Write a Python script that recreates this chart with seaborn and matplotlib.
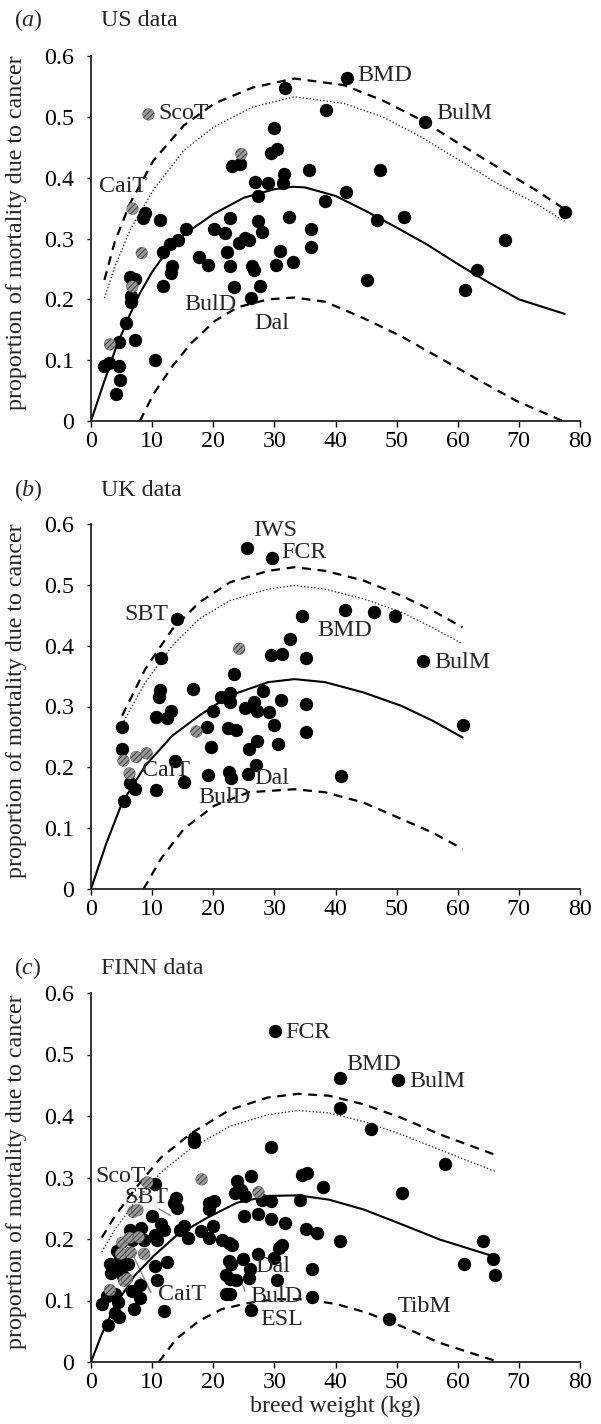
import matplotlib
matplotlib.use('Agg')
import matplotlib.pyplot as plt
import seaborn as sns

sns.set_style('ticks')
plt.rcParams['font.family'] = ['Liberation Serif', 'DejaVu Serif']
plt.rcParams['mathtext.fontset'] = 'custom'
plt.rcParams['mathtext.rm'] = 'Liberation Serif'
plt.rcParams['mathtext.it'] = 'Liberation Serif:italic'
plt.rcParams['hatch.color'] = '#3a3a3a'
plt.rcParams['hatch.linewidth'] = 0.8

# ---------------- US data ----------------
us_black = [(41.9, 0.564), (31.75, 0.548), (38.4, 0.511), (54.7, 0.491), (29.9, 0.481),
            (29.5, 0.441), (30.5, 0.447), (23, 0.42), (24.3, 0.422), (31.6, 0.406),
            (35.7, 0.413), (47.25, 0.413), (26.9, 0.393), (28.9, 0.392), (31.4, 0.391),
            (27.4, 0.37), (41.75, 0.376), (38.3, 0.361), (8.8, 0.342), (8.5, 0.333),
            (11.25, 0.331), (32.4, 0.336), (46.75, 0.331), (51.25, 0.336), (22.7, 0.334),
            (27.4, 0.328), (15.6, 0.316), (20.2, 0.316), (21.9, 0.309), (27.9, 0.31),
            (36, 0.316), (67.8, 0.298), (14.25, 0.298), (13, 0.291), (11.75, 0.277),
            (24.25, 0.292), (25.2, 0.301), (25.8, 0.298), (22.25, 0.277), (31, 0.279),
            (36, 0.286), (17.7, 0.269), (19.1, 0.257), (22.7, 0.254), (26.4, 0.254),
            (26.6, 0.249), (30.2, 0.256), (33, 0.261), (13.3, 0.254), (13.1, 0.244),
            (7.25, 0.234), (6.4, 0.236), (6.6, 0.206), (6.5, 0.196), (11.75, 0.222),
            (23.4, 0.22), (27.7, 0.222), (45.2, 0.232), (63.2, 0.249), (61.25, 0.215),
            (26.1, 0.202), (5.8, 0.161), (7.2, 0.133), (4.6, 0.13), (10.5, 0.1),
            (2.1, 0.09), (2.9, 0.096), (4.6, 0.09), (4.75, 0.067), (4.1, 0.044),
            (77.5, 0.343)]
us_gray = [(9.4, 0.504), (24.6, 0.439), (6.8, 0.349), (8.3, 0.276), (6.75, 0.221), (3.1, 0.126)]

us_fit_w = [0, 2, 4, 6, 8, 10, 12.5, 15, 20, 25, 30, 33, 35, 40, 45, 50, 55, 60, 65, 70, 77.5]
us_fit = [0, 0.06, 0.118, 0.167, 0.21, 0.245, 0.28, 0.305, 0.34, 0.367, 0.381, 0.385, 0.384,
          0.37, 0.345, 0.318, 0.29, 0.258, 0.228, 0.2, 0.176]
us_band_w = [2.2, 3.9, 6.4, 10.2, 15.2, 20.2, 26.4, 33.3, 41.4, 47.7, 54, 60.2, 66.4, 72.7, 77.5]
us_upper = [0.232, 0.295, 0.358, 0.428, 0.486, 0.522, 0.548, 0.563, 0.552, 0.527, 0.495,
            0.456, 0.418, 0.38, 0.348]
us_dotted = [0.202, 0.254, 0.314, 0.38, 0.445, 0.484, 0.516, 0.533, 0.522, 0.5, 0.467,
             0.429, 0.391, 0.358, 0.328]
us_lower_w = [8, 10.2, 13.3, 16.4, 20.2, 24, 29, 33.3, 38.3, 44.6, 50.8, 57, 63.3, 69.6, 77.2]
us_lower = [0, 0.044, 0.09, 0.128, 0.164, 0.187, 0.2, 0.203, 0.196, 0.169, 0.139, 0.104,
            0.068, 0.033, 0]
us_labels = [('BMD', 43.6, 0.568), ('ScoT', 11.0, 0.505), ('BulM', 56.5, 0.505),
             ('CaiT', 1.3, 0.385), ('BulD', 15.2, 0.191), ('Dal', 26.75, 0.161)]

# ---------------- UK data ----------------
uk_black = [(25.6, 0.56), (29.6, 0.544), (14.1, 0.444), (34.6, 0.448), (41.6, 0.459),
            (46.3, 0.455), (49.75, 0.448), (32.6, 0.411), (29.4, 0.385), (31.3, 0.387),
            (35.2, 0.379), (11.4, 0.379), (54.25, 0.374), (23.4, 0.353), (16.75, 0.328),
            (28.2, 0.326), (11.3, 0.327), (11.1, 0.315), (21.3, 0.316), (22.8, 0.323),
            (22.8, 0.308), (31.1, 0.31), (35.2, 0.304), (13.1, 0.292), (12.5, 0.281),
            (10.7, 0.283), (20, 0.293), (25.2, 0.298), (26.6, 0.307), (27.1, 0.293),
            (29.1, 0.291), (5.1, 0.266), (18.9, 0.266), (22.4, 0.264), (23.75, 0.262),
            (29.9, 0.27), (60.8, 0.27), (35.2, 0.258), (27.2, 0.244), (25.8, 0.23),
            (19.6, 0.233), (30.6, 0.238), (5.1, 0.23), (13.75, 0.211), (27.0, 0.204),
            (6.4, 0.175), (7.2, 0.165), (5.4, 0.144), (10.6, 0.162), (15.2, 0.176),
            (19.1, 0.188), (22.5, 0.192), (22.9, 0.182), (25.7, 0.189), (40.9, 0.186)]
uk_gray = [(24.25, 0.395), (17.25, 0.259), (5.3, 0.211), (7.4, 0.217), (9.1, 0.223), (6.3, 0.19)]

uk_fit_w = [0, 2.5, 5.1, 8.9, 13.3, 17.7, 22.7, 29, 33.3, 38.3, 44.6, 50.8, 55.8, 60.8]
uk_fit = [0, 0.075, 0.142, 0.203, 0.252, 0.285, 0.318, 0.34, 0.345, 0.34, 0.323, 0.301,
          0.277, 0.249]
uk_band_w = [5.1, 8.9, 13.3, 17.7, 22.7, 29, 33.3, 38.3, 44.6, 50.8, 55.8, 60.8]
uk_upper = [0.285, 0.362, 0.427, 0.471, 0.504, 0.523, 0.529, 0.523, 0.507, 0.482, 0.458, 0.43]
uk_dotted = [0.271, 0.34, 0.4, 0.444, 0.474, 0.493, 0.499, 0.493, 0.477, 0.455, 0.43, 0.403]
uk_lower_w = [8.6, 11.4, 15.2, 20.2, 25.8, 33.3, 38.3, 44.6, 50.8, 55.8, 60.8]
uk_lower = [0, 0.049, 0.099, 0.137, 0.159, 0.164, 0.159, 0.142, 0.115, 0.093, 0.066]
uk_labels = [('IWS', 26.6, 0.589), ('FCR', 31.1, 0.553), ('SBT', 5.5, 0.452),
             ('BMD', 37.0, 0.425), ('BulM', 56.2, 0.372), ('CaiT', 8.3, 0.195),
             ('Dal', 26.75, 0.181), ('BulD', 17.6, 0.151)]

# ---------------- FINN data ----------------
fi_black = [(30.1, 0.538), (40.7, 0.462), (40.7, 0.413), (50.2, 0.458), (45.8, 0.379),
            (16.9, 0.364), (16.9, 0.358), (29.4, 0.349), (57.9, 0.322), (34.6, 0.304),
            (35.4, 0.308), (38, 0.285), (50.9, 0.275), (26.1, 0.302), (23.9, 0.295),
            (10.5, 0.29), (13.6, 0.259), (13.9, 0.267), (14.1, 0.25), (9.9, 0.238),
            (19.25, 0.259), (20.2, 0.262), (19.25, 0.248), (23.6, 0.275), (24.6, 0.28),
            (25.2, 0.27), (28, 0.264), (29.4, 0.262), (34.2, 0.264), (25, 0.237),
            (27.4, 0.24), (29.4, 0.233), (31.75, 0.226), (35.2, 0.217), (37, 0.21),
            (40.7, 0.197), (64.1, 0.197), (65.8, 0.167), (61, 0.159), (66.1, 0.141),
            (14.6, 0.215), (15.2, 0.221), (15.8, 0.202), (11.4, 0.225), (12, 0.215),
            (10.5, 0.207), (10.8, 0.199), (12.5, 0.162), (10.5, 0.156), (10.75, 0.134),
            (18, 0.213), (19.9, 0.221), (19.25, 0.202), (21.4, 0.199), (22.6, 0.194),
            (23, 0.191), (30.8, 0.186), (31.3, 0.191), (27.4, 0.175), (22.6, 0.164),
            (22.9, 0.159), (24.9, 0.168), (29.9, 0.169), (26, 0.151), (36.1, 0.152),
            (22.1, 0.142), (22.7, 0.135), (23.8, 0.134), (25.9, 0.137), (30.5, 0.134),
            (22.1, 0.11), (22.8, 0.11), (36.1, 0.106), (26.1, 0.084), (48.75, 0.07),
            (7.1, 0.086), (11.9, 0.083), (8, 0.104), (8, 0.126), (6.75, 0.115),
            (1.75, 0.094), (2.6, 0.108), (3.9, 0.11), (4.4, 0.097), (3.9, 0.08),
            (4.6, 0.073), (2.8, 0.06), (3.1, 0.159), (3.3, 0.145), (3.75, 0.15),
            (4.9, 0.153), (4.25, 0.18), (4.7, 0.167), (6.1, 0.159), (5.3, 0.14),
            (6.4, 0.215), (6.75, 0.199), (8.6, 0.199), (8.1, 0.218)]
fi_gray = [(9.2, 0.292), (18.1, 0.297), (27.4, 0.276), (6.9, 0.244), (7.6, 0.247),
           (5.1, 0.194), (6.3, 0.202), (7.8, 0.203), (4.9, 0.176), (6.5, 0.178),
           (8.7, 0.176), (5.4, 0.132), (5.9, 0.135), (3.1, 0.117)]

fi_fit_w = [0, 1.75, 3.9, 7.1, 10.2, 13.9, 18.9, 23.9, 28.9, 33.9, 38.9, 44.6, 50.8, 57.1, 65.8]
fi_fit = [0, 0.045, 0.091, 0.14, 0.172, 0.205, 0.234, 0.259, 0.27, 0.271, 0.264, 0.248,
          0.224, 0.199, 0.172]
fi_band_w = [1.75, 3.9, 7.1, 11.4, 16.4, 22.7, 28.9, 33.9, 38.9, 44.6, 50.8, 57.1, 66.1]
fi_upper = [0.202, 0.237, 0.28, 0.332, 0.372, 0.41, 0.43, 0.436, 0.433, 0.419, 0.397, 0.37, 0.337]
fi_dotted = [0.179, 0.215, 0.259, 0.308, 0.348, 0.383, 0.402, 0.409, 0.405, 0.391, 0.37, 0.345, 0.31]
fi_lower_w = [11.1, 13.9, 17.7, 21.4, 25.8, 30.2, 35.2, 40.2, 45.2, 50.8, 57.1, 66.1]
fi_lower = [0, 0.037, 0.067, 0.086, 0.096, 0.102, 0.102, 0.094, 0.08, 0.058, 0.031, 0.002]
fi_labels = [('FCR', 31.75, 0.535), ('BMD', 41.75, 0.483), ('BulM', 52.0, 0.456),
             ('ScoT', 0.7, 0.302), ('SBT', 5.5, 0.267), ('CaiT', 10.9, 0.11),
             ('Dal', 26.9, 0.156), ('BulD', 26.1, 0.107), ('ESL', 27.7, 0.069),
             ('TibM', 50.1, 0.091)]
fi_leaders = [((11.1, 13.0), (0.249, 0.238)), ((7.05, 9.8), (0.17, 0.113)),
              ((8.1, 9.8), (0.137, 0.115)), ((24.25, 25.2), (0.14, 0.115))]

panels = [
    ('a', 'US data', us_black, us_gray, (us_fit_w, us_fit), (us_band_w, us_upper),
     (us_band_w, us_dotted), (us_lower_w, us_lower), us_labels, []),
    ('b', 'UK data', uk_black, uk_gray, (uk_fit_w, uk_fit), (uk_band_w, uk_upper),
     (uk_band_w, uk_dotted), (uk_lower_w, uk_lower), uk_labels, []),
    ('c', 'FINN data', fi_black, fi_gray, (fi_fit_w, fi_fit), (fi_band_w, fi_upper),
     (fi_band_w, fi_dotted), (fi_lower_w, fi_lower), fi_labels, fi_leaders),
]

W, H = 601, 1424
# axes boxes in pixels: top, bottom
boxes = [(56, 421), (524, 889), (993, 1362)]
title_y = [20, 490, 968]
left_px, right_px = 91, 580
FS = 17.3


def main():
    fig = plt.figure(figsize=(W / 100, H / 100), dpi=100)
    for i, (tag, name, black, gray, fit, upper, dotted, lower, labels, leaders) in enumerate(panels):
        top, bot = boxes[i]
        ax = fig.add_axes([left_px / W, 1 - bot / H, (right_px - left_px) / W, (bot - top) / H])

        for lw_pair in leaders:
            ax.plot(lw_pair[0], lw_pair[1], color='#8a8a8a', lw=1.0, zorder=1)

        sns.lineplot(x=fit[0], y=fit[1], ax=ax, color='black', lw=1.5, zorder=2)
        sns.lineplot(x=upper[0], y=upper[1], ax=ax, color='black', lw=1.6,
                     dashes=(4, 3), zorder=2)
        sns.lineplot(x=lower[0], y=lower[1], ax=ax, color='black', lw=1.6,
                     dashes=(4, 3), zorder=2)
        sns.lineplot(x=dotted[0], y=dotted[1], ax=ax, color='#333333', lw=1.0,
                     dashes=(1, 1.5), zorder=2)

        sns.scatterplot(x=[p[0] for p in black], y=[p[1] for p in black], ax=ax,
                        color='black', s=92, edgecolor='black', linewidth=0,
                        zorder=3, clip_on=False)
        sns.scatterplot(x=[p[0] for p in gray], y=[p[1] for p in gray], ax=ax,
                        color='#9a9a9a', s=70, edgecolor='#4a4a4a', linewidth=0.3,
                        hatch='//////', zorder=4, clip_on=False)

        for txt, x, y in labels:
            ax.text(x, y, txt, fontsize=FS, ha='left', va='center', zorder=5)

        ax.set_xlim(0, 80)
        ax.set_ylim(0, 0.6)
        ax.set_xticks(range(0, 81, 10))
        ax.set_xticklabels([str(v) for v in range(0, 81, 10)], fontsize=FS)
        ax.set_yticks([0, 0.1, 0.2, 0.3, 0.4, 0.5, 0.6])
        ax.set_yticklabels(['0', '0.1', '0.2', '0.3', '0.4', '0.5', '0.6'], fontsize=FS)
        ax.tick_params(axis='x', length=4, width=1, pad=3, colors='black')
        ax.tick_params(axis='y', length=3, width=1, pad=9, colors='black')
        for sp in ['top', 'right']:
            ax.spines[sp].set_visible(False)
        for sp in ['left', 'bottom']:
            ax.spines[sp].set_linewidth(1.3)
            ax.spines[sp].set_color('#222222')
        ax.set_ylabel('proportion of mortality due to cancer', fontsize=FS)
        ax.yaxis.set_label_coords((27 - left_px) / (right_px - left_px), 0.515)
        if tag == 'c':
            ax.set_xlabel('breed weight (kg)', fontsize=FS, labelpad=2)
        else:
            ax.set_xlabel('')

        fig.text(14 / W, 1 - title_y[i] / H, '($\\mathit{' + tag + '}$)', fontsize=FS,
                 ha='left', va='center')
        fig.text(101 / W, 1 - title_y[i] / H, name, fontsize=FS, ha='left', va='center')

    fig.savefig('out.png', dpi=100)


if __name__ == '__main__':
    main()
